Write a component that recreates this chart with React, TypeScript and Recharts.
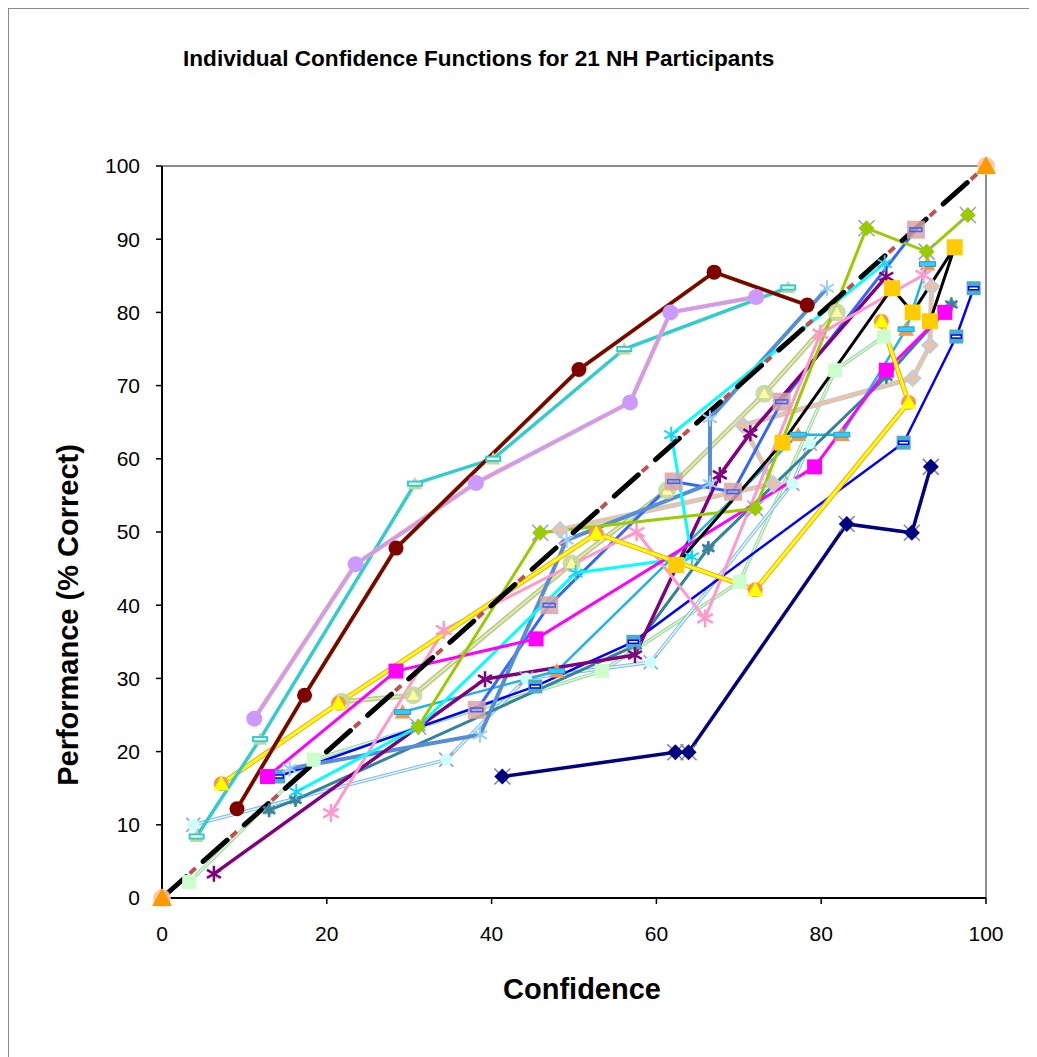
import React from 'react';
import { LineChart, Line, XAxis, YAxis, ReferenceLine } from 'recharts';

type P = { x: number; y: number };

const xTicks = [0, 20, 40, 60, 80, 100];
const yTicks = [0, 10, 20, 30, 40, 50, 60, 70, 80, 90, 100];

const diagonal: P[] = [{ x: 0, y: 0 }, { x: 100, y: 100 }];
const maroon: P[] = [{ x: 9.1, y: 12.2 }, { x: 17.3, y: 27.7 }, { x: 28.4, y: 47.8 }, { x: 50.6, y: 72.2 }, { x: 67.0, y: 85.5 }, { x: 78.3, y: 81.0 }];
const lavender: P[] = [{ x: 11.2, y: 24.5 }, { x: 23.5, y: 45.6 }, { x: 38.1, y: 56.7 }, { x: 56.8, y: 67.7 }, { x: 61.7, y: 80.0 }, { x: 72.1, y: 82.1 }];
const turquoise: P[] = [{ x: 4.2, y: 8.4 }, { x: 11.9, y: 21.7 }, { x: 30.7, y: 56.6 }, { x: 40.2, y: 60.0 }, { x: 56.1, y: 75.0 }, { x: 76.0, y: 83.4 }];
const yellow: P[] = [{ x: 7.2, y: 15.6 }, { x: 21.4, y: 26.6 }, { x: 52.7, y: 49.8 }, { x: 72.0, y: 42.1 }, { x: 90.6, y: 67.7 }, { x: 87.3, y: 78.8 }];
const magenta: P[] = [{ x: 12.8, y: 16.6 }, { x: 28.4, y: 31.0 }, { x: 45.4, y: 35.4 }, { x: 79.2, y: 58.9 }, { x: 87.9, y: 72.1 }, { x: 95.0, y: 80.0 }];
const gold: P[] = [{ x: 62.4, y: 45.5 }, { x: 75.3, y: 62.2 }, { x: 88.6, y: 83.3 }, { x: 91.1, y: 80.0 }, { x: 96.2, y: 88.9 }, { x: 93.2, y: 78.8 }];
const navy: P[] = [{ x: 41.3, y: 16.6 }, { x: 62.3, y: 19.9 }, { x: 63.9, y: 19.9 }, { x: 83.1, y: 51.1 }, { x: 91.0, y: 49.9 }, { x: 93.3, y: 58.9 }];
const blue: P[] = [{ x: 14.1, y: 16.6 }, { x: 45.3, y: 28.9 }, { x: 57.2, y: 35.0 }, { x: 90.0, y: 62.2 }, { x: 96.4, y: 76.7 }, { x: 98.5, y: 83.3 }];
const royal: P[] = [{ x: 38.2, y: 25.7 }, { x: 47.0, y: 40.0 }, { x: 62.1, y: 56.9 }, { x: 69.3, y: 55.5 }, { x: 75.2, y: 67.8 }, { x: 91.5, y: 91.3 }];
const lightGreen: P[] = [{ x: 3.3, y: 2.2 }, { x: 18.4, y: 18.9 }, { x: 53.4, y: 31.0 }, { x: 70.1, y: 43.2 }, { x: 81.7, y: 72.1 }, { x: 87.6, y: 76.7 }];
const lightCyan: P[] = [{ x: 3.8, y: 10.0 }, { x: 34.5, y: 18.9 }, { x: 44.2, y: 30.0 }, { x: 59.3, y: 32.2 }, { x: 76.5, y: 56.6 }, { x: 78.6, y: 62.1 }];
const cyan: P[] = [{ x: 16.3, y: 14.5 }, { x: 31.1, y: 23.4 }, { x: 50.2, y: 44.4 }, { x: 64.3, y: 46.6 }, { x: 61.8, y: 63.3 }, { x: 87.7, y: 86.7 }];
const skyBlue: P[] = [{ x: 29.2, y: 25.4 }, { x: 47.9, y: 31.0 }, { x: 77.2, y: 63.3 }, { x: 82.5, y: 63.3 }, { x: 90.3, y: 77.7 }, { x: 92.9, y: 86.6 }];
const teal: P[] = [{ x: 13.0, y: 12.0 }, { x: 16.2, y: 13.4 }, { x: 57.5, y: 34.5 }, { x: 66.3, y: 47.8 }, { x: 87.9, y: 71.2 }, { x: 95.8, y: 81.1 }];
const purple: P[] = [{ x: 6.3, y: 3.3 }, { x: 39.2, y: 29.9 }, { x: 57.4, y: 33.2 }, { x: 67.7, y: 57.8 }, { x: 71.4, y: 63.5 }, { x: 87.9, y: 84.9 }];
const pink: P[] = [{ x: 20.5, y: 11.6 }, { x: 34.2, y: 36.6 }, { x: 57.6, y: 50.0 }, { x: 65.9, y: 38.2 }, { x: 79.9, y: 77.1 }, { x: 92.4, y: 85.1 }];
const yellowGreen: P[] = [{ x: 31.1, y: 23.4 }, { x: 45.9, y: 49.9 }, { x: 72.0, y: 53.2 }, { x: 85.5, y: 91.5 }, { x: 92.8, y: 88.3 }, { x: 97.8, y: 93.3 }];
const sage: P[] = [{ x: 21.8, y: 26.8 }, { x: 30.5, y: 27.7 }, { x: 49.7, y: 45.7 }, { x: 61.3, y: 55.7 }, { x: 73.1, y: 68.9 }, { x: 81.9, y: 80.0 }];
const peach: P[] = [{ x: 48.3, y: 50.3 }, { x: 74.2, y: 56.6 }, { x: 70.5, y: 64.6 }, { x: 91.1, y: 71.0 }, { x: 93.2, y: 75.5 }, { x: 93.4, y: 83.5 }];
const cornflower: P[] = [{ x: 15.5, y: 17.7 }, { x: 38.6, y: 22.3 }, { x: 49.1, y: 48.9 }, { x: 66.5, y: 56.6 }, { x: 66.5, y: 65.5 }, { x: 80.7, y: 83.3 }];

type Layer = { s: string; r: number; fill?: string; stroke?: string; w?: number; op?: number };

function shape(l: Layer, cx: number, cy: number, k: number) {
  const r = l.r;
  const fill = l.fill ?? 'none';
  const stroke = l.stroke ?? 'none';
  const sw = l.w ?? 1;
  const op = l.op ?? 1;
  switch (l.s) {
    case 'circle':
      return <circle key={k} cx={cx} cy={cy} r={r} fill={fill} stroke={stroke} strokeWidth={sw} opacity={op} />;
    case 'square':
      return <rect key={k} x={cx - r} y={cy - r} width={2 * r} height={2 * r} fill={fill} stroke={stroke} strokeWidth={sw} opacity={op} />;
    case 'diamond':
      return <polygon key={k} points={`${cx},${cy - r} ${cx + r},${cy} ${cx},${cy + r} ${cx - r},${cy}`} fill={fill} stroke={stroke} strokeWidth={sw} opacity={op} />;
    case 'triangle':
      return <polygon key={k} points={`${cx},${cy - r} ${cx + r},${cy + r * 0.8} ${cx - r},${cy + r * 0.8}`} fill={fill} stroke={stroke} strokeWidth={sw} opacity={op} />;
    case 'star': {
      const a = r * 0.87, b = r * 0.5;
      const d = `M${cx},${cy - r}L${cx},${cy + r}M${cx - a},${cy - b}L${cx + a},${cy + b}M${cx - a},${cy + b}L${cx + a},${cy - b}`;
      return <path key={k} d={d} fill="none" stroke={stroke} strokeWidth={sw} opacity={op} />;
    }
    case 'x': {
      const d = `M${cx - r},${cy - r}L${cx + r},${cy + r}M${cx - r},${cy + r}L${cx + r},${cy - r}`;
      return <path key={k} d={d} fill="none" stroke={stroke} strokeWidth={sw} opacity={op} />;
    }
    case 'plus': {
      const d = `M${cx},${cy - r}L${cx},${cy + r}M${cx - r},${cy}L${cx + r},${cy}`;
      return <path key={k} d={d} fill="none" stroke={stroke} strokeWidth={sw} opacity={op} />;
    }
    case 'dash':
      return <rect key={k} x={cx - r} y={cy - r * 0.3} width={2 * r} height={r * 0.6} fill={fill} stroke={stroke} strokeWidth={sw} opacity={op} />;
    default:
      return null;
  }
}

function makeDot(layers: Layer[]) {
  return (props: any) => {
    const { cx, cy, index } = props;
    if (cx == null || cy == null) return <g key={`e${index}`} />;
    return <g key={`d${index}`}>{layers.map((l, i) => shape(l, cx, cy, i))}</g>;
  };
}

type S = { name: string; data: P[]; stroke: string; w: number; under?: { stroke: string; w: number }; dot: Layer[] };

const series: S[] = [
  { name: 'sage', data: sage, stroke: '#e2eaae', w: 2, under: { stroke: '#b8c98a', w: 5 }, dot: [{ s: 'circle', r: 9, fill: '#c4d79b', op: 0.9 }, { s: 'triangle', r: 5.5, fill: '#ffff99' }] },
  { name: 'lightGreen', data: lightGreen, stroke: '#ccffcc', w: 1.5, under: { stroke: '#a9cfa9', w: 3.5 }, dot: [{ s: 'square', r: 7, fill: '#ccffcc' }] },
  { name: 'lightCyan', data: lightCyan, stroke: '#ccffff', w: 1.5, under: { stroke: '#8eb4e3', w: 3.5 }, dot: [{ s: 'x', r: 7, stroke: '#8a9ac8', w: 1.5 }, { s: 'circle', r: 6, fill: '#ccffff' }] },
  { name: 'peach', data: peach, stroke: '#fac090', w: 2.5, under: { stroke: '#b9cde5', w: 5 }, dot: [{ s: 'diamond', r: 9, fill: '#b9cde5' }, { s: 'plus', r: 7, stroke: '#fac090', w: 2.5 }] },
  { name: 'skyBlue', data: skyBlue, stroke: '#1fb4e8', w: 2.5, dot: [{ s: 'triangle', r: 8, fill: '#f79646' }, { s: 'dash', r: 8, fill: '#33ccff', stroke: '#1f9fd0', w: 1 }] },
  { name: 'teal', data: teal, stroke: '#31849b', w: 3, dot: [{ s: 'diamond', r: 6, fill: '#8093b3' }, { s: 'star', r: 7, stroke: '#31849b', w: 2.5 }] },
  { name: 'blue', data: blue, stroke: '#0000ff', w: 2.5, dot: [{ s: 'square', r: 7, fill: '#4bacc6' }, { s: 'dash', r: 5, fill: '#ffffff', stroke: '#0000ff', w: 1.5 }] },
  { name: 'royal', data: royal, stroke: '#3366ff', w: 3, dot: [{ s: 'square', r: 9, fill: '#d9a3a3', op: 0.85 }, { s: 'dash', r: 6, fill: 'none', stroke: '#3366ff', w: 1.5 }] },
  { name: 'cornflower', data: cornflower, stroke: '#558ed5', w: 4, dot: [{ s: 'star', r: 8, stroke: '#99ccff', w: 2 }] },
  { name: 'purple', data: purple, stroke: '#800080', w: 3.5, dot: [{ s: 'star', r: 8, stroke: '#800080', w: 2.5 }] },
  { name: 'pink', data: pink, stroke: '#ff99cc', w: 3, dot: [{ s: 'star', r: 9, stroke: '#ff99cc', w: 2.5 }] },
  { name: 'cyan', data: cyan, stroke: '#00ffff', w: 3, dot: [{ s: 'star', r: 8, stroke: '#19d3f3', w: 2 }] },
  { name: 'magenta', data: magenta, stroke: '#ff00ff', w: 3, dot: [{ s: 'square', r: 7.5, fill: '#ff00ff' }] },
  { name: 'yellow', data: yellow, stroke: '#ffff00', w: 3, under: { stroke: '#f0a13c', w: 5 }, dot: [{ s: 'circle', r: 7.5, fill: '#f79646' }, { s: 'triangle', r: 8, fill: '#ffff00' }] },
  { name: 'yellowGreen', data: yellowGreen, stroke: '#99cc00', w: 3, dot: [{ s: 'x', r: 8, stroke: '#9999cc', w: 1.5 }, { s: 'diamond', r: 8, fill: '#99cc00' }] },
  { name: 'turquoise', data: turquoise, stroke: '#33cccc', w: 3.5, dot: [{ s: 'triangle', r: 7, fill: '#c4d79b' }, { s: 'dash', r: 7, fill: '#ffffff', stroke: '#33cccc', w: 2 }] },
  { name: 'gold', data: gold, stroke: '#000000', w: 3, dot: [{ s: 'square', r: 8, fill: '#ffcc00' }] },
  { name: 'lavender', data: lavender, stroke: '#cc99ff', w: 3, under: { stroke: '#f4b183', w: 4.5 }, dot: [{ s: 'circle', r: 8, fill: '#cc99ff' }] },
  { name: 'maroon', data: maroon, stroke: '#7f0000', w: 3, under: { stroke: '#6b5a00', w: 4 }, dot: [{ s: 'circle', r: 7.5, fill: '#800000' }] },
  { name: 'navy', data: navy, stroke: '#000080', w: 3.5, dot: [{ s: 'x', r: 8, stroke: '#8080a0', w: 1.5 }, { s: 'diamond', r: 8, fill: '#000080' }] },
];

const font = '"Liberation Sans", Arial, sans-serif';

export default function App() {
  const lines: React.ReactNode[] = [];
  series.forEach((s) => {
    if (s.under) {
      lines.push(
        <Line key={s.name + '_u'} data={s.data} dataKey="y" type="linear" stroke={s.under.stroke} strokeWidth={s.under.w}
          dot={false} activeDot={false} isAnimationActive={false} legendType="none" />
      );
    }
    lines.push(
      <Line key={s.name} data={s.data} dataKey="y" type="linear" stroke={s.stroke} strokeWidth={s.w}
        dot={makeDot(s.dot)} activeDot={false} isAnimationActive={false} legendType="none" />
    );
  });

  return (
    <div style={{ position: 'relative', width: 1035, height: 1055, border: '1px solid #8c8c8c', boxSizing: 'border-box', background: '#fff', fontFamily: font }}>
      <div style={{ position: 'absolute', left: 174, top: 38, fontSize: 22.6, fontWeight: 'bold', lineHeight: '23px', whiteSpace: 'nowrap', color: '#000' }}>
        Individual Confidence Functions for 21 NH Participants
      </div>
      <div style={{ position: 'absolute', left: 0, top: 0 }}>
        <LineChart width={1000} height={1000} margin={{ top: 157, right: 23, bottom: 71, left: 93 }}>
          <XAxis type="number" dataKey="x" domain={[0, 100]} ticks={xTicks} interval={0}
            axisLine={{ stroke: '#000', strokeWidth: 2 }} tickLine={{ stroke: '#000', strokeWidth: 1.5 }} tickSize={6} tickMargin={22} height={40}
            tick={{ fill: '#000', fontSize: 21, fontFamily: font }} />
          <YAxis type="number" domain={[0, 100]} ticks={yTicks} interval={0} width={60}
            axisLine={{ stroke: '#000', strokeWidth: 2 }} tickLine={{ stroke: '#000', strokeWidth: 1.5 }} tickSize={6} tickMargin={16}
            tick={{ fill: '#000', fontSize: 21, fontFamily: font }} />
          <ReferenceLine y={100} stroke="#8c8c8c" strokeWidth={2} />
          <ReferenceLine x={100} stroke="#8c8c8c" strokeWidth={2} />
          {lines}
          <Line data={diagonal} dataKey="y" type="linear" stroke="#c0504d" strokeWidth={4} strokeDasharray="8 47" strokeDashoffset={18}
            dot={false} activeDot={false} isAnimationActive={false} legendType="none" />
          <Line data={diagonal} dataKey="y" type="linear" stroke="#000" strokeWidth={5} strokeDasharray="32 23" strokeLinecap="round"
            dot={makeDot([{ s: 'circle', r: 9, fill: '#fbc4a4', op: 0.9 }, { s: 'triangle', r: 10, fill: '#ff9900' }])}
            activeDot={false} isAnimationActive={false} legendType="none" />
        </LineChart>
      </div>
      <div style={{ position: 'absolute', left: 573, top: 966, transform: 'translateX(-50%)', fontSize: 29, fontWeight: 'bold', lineHeight: '29px', whiteSpace: 'nowrap', color: '#000' }}>
        Confidence
      </div>
      <div style={{ position: 'absolute', left: 59, top: 606, transform: 'translate(-50%, -50%) rotate(-90deg)', fontSize: 29, fontWeight: 'bold', lineHeight: '29px', whiteSpace: 'nowrap', color: '#000' }}>
        Performance (% Correct)
      </div>
    </div>
  );
}
